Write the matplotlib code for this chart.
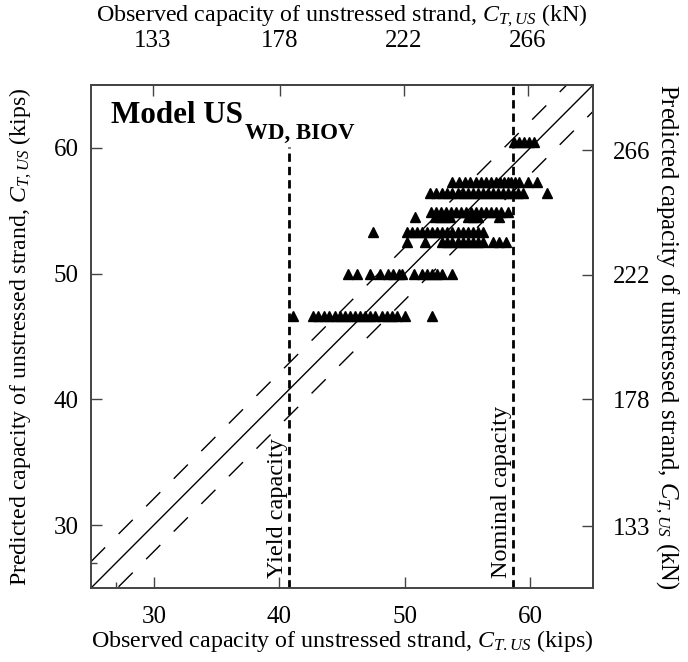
import matplotlib
matplotlib.use("Agg")
import matplotlib.pyplot as plt
import numpy as np

plt.rcParams['font.family'] = ['Liberation Serif', 'DejaVu Serif']
plt.rcParams['mathtext.fontset'] = 'custom'
plt.rcParams['mathtext.rm'] = 'Liberation Serif'
plt.rcParams['mathtext.it'] = 'Liberation Serif:italic'
plt.rcParams['mathtext.bf'] = 'Liberation Serif:bold'

KN_PER_KIP = 4.448

# Data: rows of (predicted capacity, observed capacities) in kips
pred_levels = [60.5, 57.3, 56.4, 54.9, 54.5, 53.3, 52.5, 50.0, 46.6]
obs_by_level = [
    [58.7, 59.1, 59.5, 59.9, 60.3],
    [53.8, 54.3, 54.8, 55.2, 55.7, 56.1, 56.5, 56.9, 57.3, 57.6, 57.9, 58.2, 58.5, 58.8, 59.1, 59.8, 60.5],
    [52.0, 52.5, 53.0, 53.4, 53.8, 54.2, 54.6, 55.0, 55.4, 55.8, 56.2, 56.6, 57.0, 57.4, 57.8, 58.2, 58.6, 59.0, 59.4, 61.3],
    [52.1, 52.5, 52.9, 53.3, 53.7, 54.1, 54.5, 54.9, 55.3, 55.7, 56.1, 56.5, 56.9, 57.3, 57.7, 58.2],
    [50.8, 52.4, 52.8, 53.2, 53.6, 55.0, 55.4, 55.8, 57.5],
    [47.5, 50.2, 50.6, 51.0, 51.4, 51.8, 52.2, 52.6, 53.0, 53.4, 53.8, 54.2, 54.6, 55.0, 55.4, 55.8, 56.2],
    [50.2, 51.6, 53.0, 53.4, 53.8, 54.2, 54.6, 55.0, 55.4, 55.8, 56.2, 57.0, 57.5, 58.1],
    [45.5, 46.2, 47.2, 48.0, 48.7, 49.1, 49.5, 49.8, 50.7, 51.4, 51.8, 52.2, 52.6, 53.0, 53.8],
    [41.1, 42.7, 43.1, 43.6, 44.0, 44.4, 44.8, 45.2, 45.6, 46.0, 46.4, 46.8, 47.2, 47.6, 48.2, 48.6, 49.0, 49.4, 50.0, 52.2],
]

axis_lim = [25, 65]
kips_ticks = [30, 40, 50, 60]
kips_minor_ticks = [27.0]
kn_ticks = [133, 178, 222, 266]
yield_cap = 40.8
yield_top = 60.1
nominal_cap = 58.6
band_offset = 2.1

spine_color = '#444444'

fig = plt.figure(figsize=(6.88, 6.62), dpi=100)
ax = fig.add_axes([0.1323, 0.1118, 0.862 - 0.1323, 0.8716 - 0.1118])

xs = []
ys = []
for lvl, obs in zip(pred_levels, obs_by_level):
    xs.extend(obs)
    ys.extend([lvl] * len(obs))
ax.plot(xs, ys, linestyle='none', marker='^', color='black', markersize=7, zorder=3)

line_x = np.array(axis_lim)
ax.plot(line_x, line_x, color='black', lw=1.0)
ax.plot(line_x, line_x + band_offset, color='black', lw=1.0, dashes=(14.4, 13.7))
ax.plot(line_x, line_x - band_offset, color='black', lw=1.0, dashes=(14.4, 13.7))

ax.plot([yield_cap, yield_cap], [axis_lim[0], yield_top], color='black', lw=2.0, dashes=(3, 1.8))
ax.plot([nominal_cap, nominal_cap], axis_lim, color='black', lw=2.0, dashes=(3, 1.8))

ax.text(yield_cap - 0.08, 25.8, 'Yield capacity', rotation=90, ha='right', va='bottom', fontsize=17.5)
ax.text(nominal_cap - 0.08, 25.8, 'Nominal capacity', rotation=90, ha='right', va='bottom', fontsize=17.5)

ax.text(0.040, 0.9245, 'Model US', transform=ax.transAxes,
        fontsize=22.4, fontweight='bold', ha='left', va='baseline')
ax.text(0.307, 0.8926, 'WD, BIOV', transform=ax.transAxes,
        fontsize=16.5, fontweight='bold', ha='left', va='baseline')

ax.set_xlim(axis_lim)
ax.set_ylim(axis_lim)
ax.set_xticks(kips_ticks)
ax.set_yticks(kips_ticks)
ax.set_xticks(kips_minor_ticks, minor=True)
ax.set_yticks(kips_minor_ticks, minor=True)
ax.tick_params(which='major', direction='in', length=8, width=1, labelsize=18, color=spine_color)
ax.tick_params(which='minor', direction='in', length=4, width=1, color=spine_color)
ax.tick_params(axis='x', which='major', pad=13)
ax.tick_params(axis='y', which='major', pad=9)

ax.set_xlabel(r'Observed capacity of unstressed strand, $\mathit{C}_{\mathit{T.US}}$ (kips)', fontsize=17.3, labelpad=0)
ax.set_ylabel(r'Predicted capacity of unstressed strand, $\mathit{C}_{\mathit{T,US}}$ (kips)', fontsize=17.2, labelpad=14)

secx = ax.secondary_xaxis('top', functions=(lambda v: v * KN_PER_KIP, lambda v: v / KN_PER_KIP))
secx.set_xticks(kn_ticks)
secx.tick_params(direction='in', length=8, width=1, labelsize=18, pad=24, color=spine_color)
secx.set_xlabel(r'Observed capacity of unstressed strand, $\mathit{C}_{\mathit{T,US}}$ (kN)', fontsize=17.3, labelpad=6)

secy = ax.secondary_yaxis('right', functions=(lambda v: v * KN_PER_KIP, lambda v: v / KN_PER_KIP))
secy.set_yticks(kn_ticks)
secy.tick_params(direction='in', length=8, width=1, labelsize=18, pad=14, color=spine_color)
secy.set_ylabel(r'Predicted capacity of unstressed strand, $\mathit{C}_{\mathit{T,US}}$ (kN)', fontsize=17.8,
                rotation=270, labelpad=22)

for s in ax.spines.values():
    s.set_linewidth(1.4)
    s.set_color(spine_color)
for s in list(secx.spines.values()) + list(secy.spines.values()):
    s.set_linewidth(1.4)
    s.set_color(spine_color)

fig.savefig('out.png', dpi=100)
